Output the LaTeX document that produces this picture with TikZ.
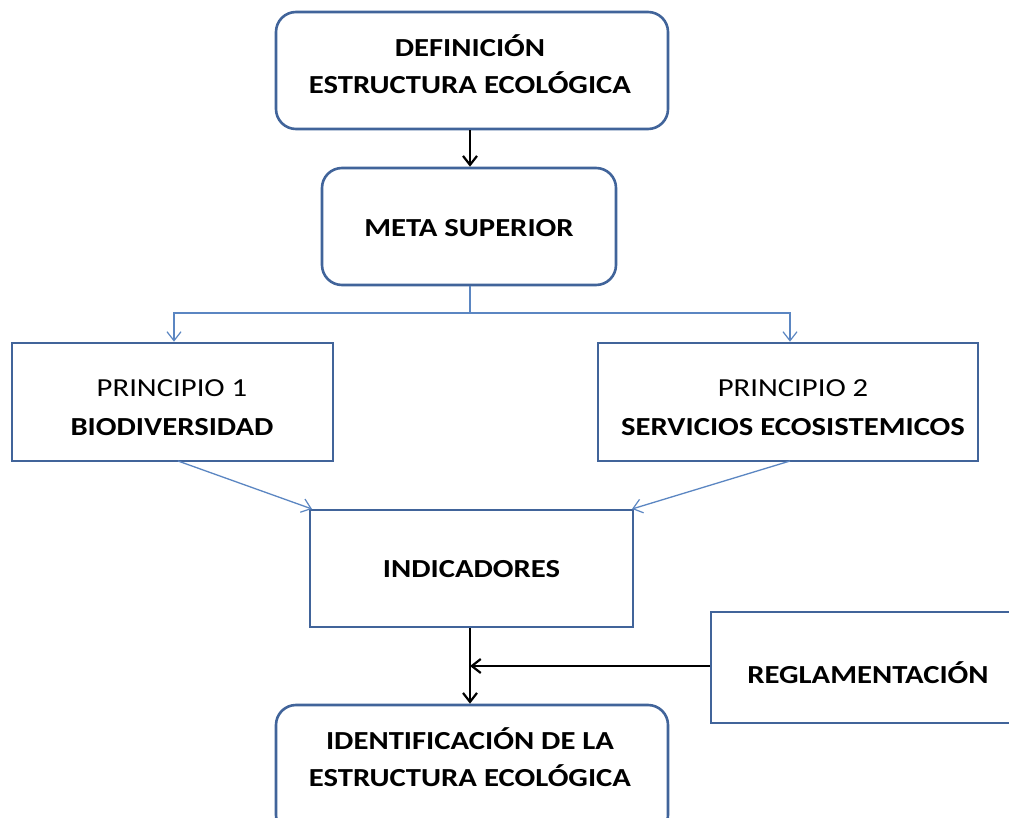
\documentclass[tikz,border=0pt]{standalone}
\usepackage{fontspec}
\setmainfont{Carlito}
\newfontfamily\widefont[FakeStretch=1.18]{Carlito}
\usetikzlibrary{arrows.meta}
\definecolor{boxline}{HTML}{41649A}
\definecolor{thinblue}{HTML}{5B86C2}
\tikzset{
  rbox/.style={draw=boxline, line width=2.6pt, rounded corners=20pt, fill=white, align=center, inner sep=0pt},
  sbox/.style={draw=boxline, line width=2.6pt, fill=white, align=center, inner sep=0pt},
  blk/.style={draw=black, line width=2.6pt, -{Straight Barb[length=9pt,width=14pt,line width=2.2pt]}},
  blu/.style={draw=thinblue, line width=1.3pt},
  bluarr/.style={blu, -{Straight Barb[length=9pt,width=14pt,line width=1.2pt]}},
  txt/.style={font=\widefont\fontsize{26}{37}\selectfont}
}
\begin{document}
\begin{tikzpicture}[x=1pt,y=-1pt]
\useasboundingbox (0,0) rectangle (1009,818);
\clip (0,0) rectangle (1009,818);
\fill[white] (0,0) rectangle (1009,818);
% boxes
\node[rbox, minimum width=392pt, minimum height=117pt] (def) at (472,70.5) {};
\node[txt, align=center, inner sep=0pt] (deftxt) at (470,64) {\bfseries DEFINICIÓN\\\bfseries ESTRUCTURA ECOLÓGICA};
\node[rbox, minimum width=294pt, minimum height=117pt] (meta) at (469,226.5) {};
\node[txt, inner sep=0pt] (metatxt) at (469,228.5) {\bfseries META SUPERIOR};
\node[sbox, minimum width=321pt, minimum height=118pt] (p1) at (172.5,402) {};
\node[txt, align=center, inner sep=0pt] (p1txt) at (172,408) {PRINCIPIO 1\\[2pt]\bfseries BIODIVERSIDAD};
\node[sbox, minimum width=380pt, minimum height=118pt] (p2) at (788,402) {};
\node[txt, align=center, inner sep=0pt] (p2txt) at (793,408) {PRINCIPIO 2\\[2pt]\bfseries SERVICIOS ECOSISTEMICOS};
\node[sbox, minimum width=323pt, minimum height=117pt] (ind) at (471.5,568.5) {};
\node[txt, inner sep=0pt] (indtxt) at (471.5,569.5) {\bfseries INDICADORES};
\node[sbox, minimum width=320pt, minimum height=111pt] (reg) at (871,667.5) {};
\node[txt, inner sep=0pt] (regtxt) at (868,673) {\bfseries REGLAMENTACIÓN};
\node[rbox, minimum width=392pt, minimum height=130pt] (ide) at (472,770) {};
\node[txt, align=center, inner sep=0pt] (idetxt) at (470,757) {\bfseries IDENTIFICACIÓN DE LA\\\bfseries ESTRUCTURA ECOLÓGICA};
% connectors
\draw[blk] (def.south -| 470,0) -- (meta.north -| 470,0);
\coordinate (split) at (470,313);
\coordinate (sl) at (174,313);
\coordinate (sr) at (790,313);
\draw[blu] (meta.south -| split) -- (split);
\draw[bluarr] (split) -- (sl) -- (sl |- p1.north);
\draw[bluarr] (split) -- (sr) -- (sr |- p2.north);
\draw[bluarr] (178,461) -- (312,509);
\draw[bluarr] (790,461) -- (632,509);
\draw[blk] (ind.south -| 470,0) -- (ide.north -| 470,0);
\coordinate (join) at (470,666);
\draw[blk] (reg.west |- join) -- (join);
\end{tikzpicture}
\end{document}
